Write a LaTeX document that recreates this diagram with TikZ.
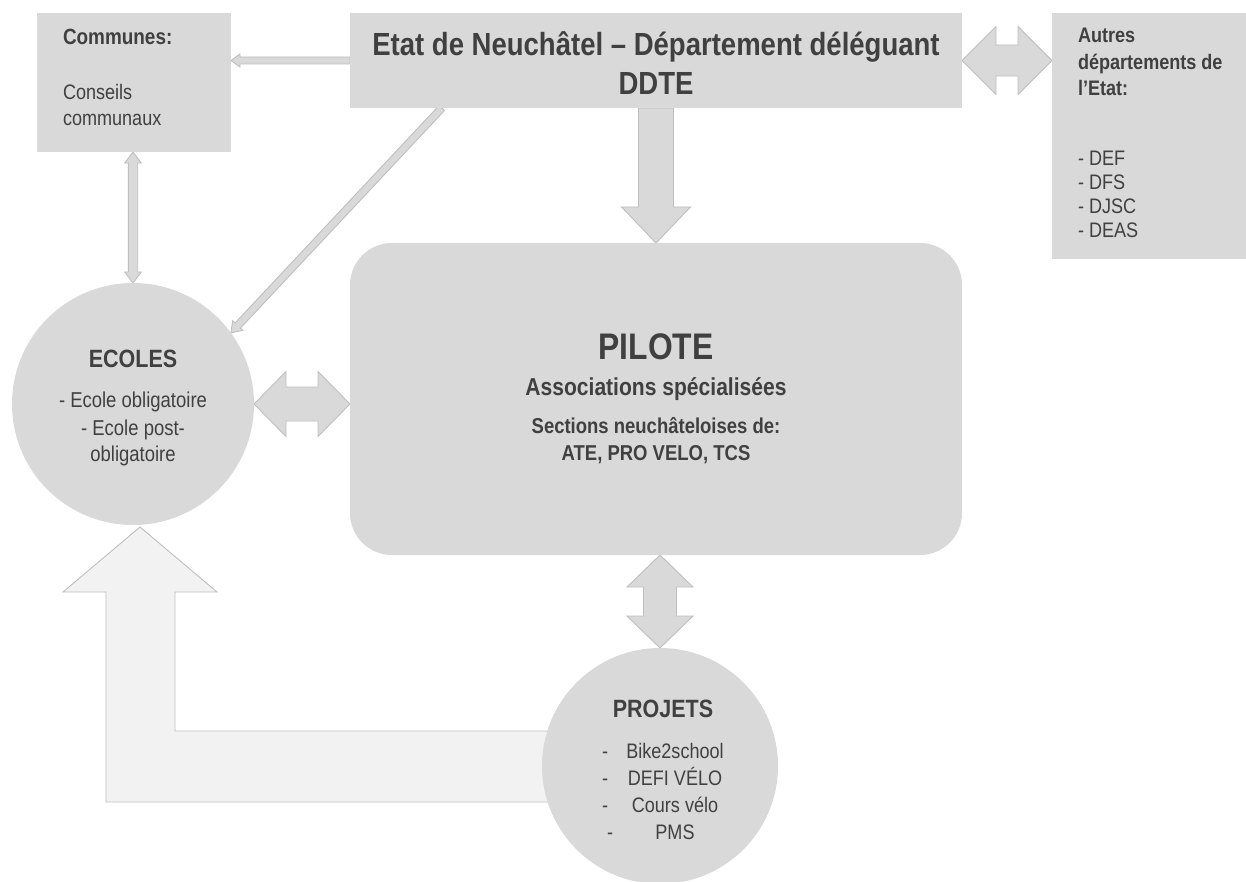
\documentclass[tikz,border=0pt]{standalone}
\usepackage{fontspec}
\setmainfont{Liberation Sans}[FakeStretch=0.86]
\usetikzlibrary{calc}
\definecolor{boxg}{HTML}{D9D9D9}
\definecolor{edgeg}{HTML}{BFBFBF}
\definecolor{lightg}{HTML}{F2F2F2}
\definecolor{txt}{HTML}{404040}
\newcommand\fs[1]{\fontsize{#1}{#1}\selectfont}
% single block arrow: A B shaft-half head-half head-length
\newcommand\sarrow[5]{%
  \path ($(#2)!#5!(#1)$) coordinate (hb);
  \filldraw[blockarrow] ($(#1)!#3!90:(#2)$) -- ($(hb)!#3!90:(#2)$) -- ($(hb)!#4!90:(#2)$) -- (#2) -- ($(hb)!#4!-90:(#2)$) -- ($(hb)!#3!-90:(#2)$) -- ($(#1)!#3!-90:(#2)$) -- cycle;}
% double block arrow
\newcommand\darrow[5]{%
  \path ($(#1)!#5!(#2)$) coordinate (ha) ($(#2)!#5!(#1)$) coordinate (hb);
  \filldraw[blockarrow] (#1) -- ($(ha)!#4!90:(#2)$) -- ($(ha)!#3!90:(#2)$) -- ($(hb)!#3!90:(#2)$) -- ($(hb)!#4!90:(#2)$) -- (#2) -- ($(hb)!#4!-90:(#2)$) -- ($(hb)!#3!-90:(#2)$) -- ($(ha)!#3!-90:(#2)$) -- ($(ha)!#4!-90:(#2)$) -- cycle;}
\begin{document}
\begin{tikzpicture}[x=1pt,y=-1pt,
  every node/.style={inner sep=0pt, outer sep=0pt, text=txt},
  panel/.style={draw=none, rectangle},
  disc/.style={draw=none, circle},
  blockarrow/.style={fill=boxg, draw=edgeg, line width=0.9pt, line join=miter},
  bigarrow/.style={fill=lightg, draw=edgeg, line width=0.9pt, line join=miter},
  hd/.style={font=\bfseries\fs{#1}},
  tx/.style={font=\fs{#1}}]
\useasboundingbox (0,0) rectangle (1246,882);
\fill[white] (0,0) rectangle (1246,882);

% shape nodes (placeholders; filled below after the arrows)
\path node[panel, minimum width=194pt, minimum height=139pt, anchor=north west] (communes) at (37,13) {}
      node[panel, minimum width=612pt, minimum height=95pt, anchor=north west] (etat) at (350,13) {}
      node[panel, minimum width=194pt, minimum height=246pt, anchor=north west] (autres) at (1052,13) {}
      node[panel, minimum width=612pt, minimum height=312pt, anchor=north west] (pilote) at (350,243) {}
      node[disc, minimum size=242pt] (ecoles) at (133,404) {}
      node[disc, minimum size=236pt] (projets) at (660,766) {};

% connectors
\coordinate (cE) at (communes.east |- etat.west);
\coordinate (aW) at (autres.west |- etat.east);
\coordinate (eDiag) at ($(etat.south west)!0.15!(etat.south east)$);
\coordinate (cS) at (communes.south -| ecoles.north);
\coordinate (pW) at (pilote.west |- ecoles.east);
\coordinate (pS) at (pilote.south -| projets.north);
\coordinate (eTip) at ($(ecoles.south)+(7,2)$);

\sarrow{etat.west}{cE}{3.5pt}{6.5pt}{9pt}
\darrow{cS}{ecoles.north}{4.7pt}{8.3pt}{11pt}
\sarrow{eDiag}{ecoles.36}{3.7pt}{7pt}{10pt}
\darrow{etat.east}{aW}{15.5pt}{34pt}{34pt}
\sarrow{etat.south}{pilote.north}{17.5pt}{34.5pt}{36pt}
\darrow{ecoles.east}{pW}{17pt}{32.5pt}{32pt}
\darrow{pS}{projets.north}{16.5pt}{33pt}{32pt}

% L-shaped arrow PROJETS -> ECOLES
\filldraw[bigarrow] (projets.center |- 0,731) -- (175,731) -- (175,592) -- (217,592) -- (eTip) -- (63,592) -- (106,592) -- (106,802) -- (projets.center |- 0,802) -- cycle;

% shapes on top
\fill[boxg] (communes.south west) rectangle (communes.north east);
\fill[boxg] (etat.south west) rectangle (etat.north east);
\fill[boxg] (autres.south west) rectangle (autres.north east);
\fill[boxg, rounded corners=42pt] (pilote.south west) rectangle (pilote.north east);
\fill[boxg] (ecoles.center) circle[radius=121pt];
\fill[boxg] (projets.center) circle[radius=118pt];

% texts
\node[hd=22, anchor=base west] (tcom1) at (63,45) {Communes:};
\node[tx=21, anchor=base west] (tcom2) at (63,100) {Conseils};
\node[tx=21, anchor=base west] (tcom3) at (63,126) {communaux};

\node[hd=32, anchor=base] (tetat1) at (656,56) {Etat de Neuchâtel – Département déléguant};
\node[hd=32, anchor=base] (tetat2) at (656,95) {DDTE};

\node[hd=21, anchor=base west] (taut1) at (1078,43) {Autres};
\node[hd=21, anchor=base west] (taut2) at (1078,70) {départements de};
\node[hd=21, anchor=base west] (taut3) at (1078,96) {l’Etat:};
\node[tx=21, anchor=base west] (taut4) at (1078,166) {- DEF};
\node[tx=21, anchor=base west] (taut5) at (1078,190) {- DFS};
\node[tx=21, anchor=base west] (taut6) at (1078,214) {- DJSC};
\node[tx=21, anchor=base west] (taut7) at (1078,238) {- DEAS};

\node[hd=25, anchor=base] (tec1) at (133,367) {ECOLES};
\node[tx=21.5, anchor=base] (tec2) at (133,407) {- Ecole obligatoire};
\node[tx=21.5, anchor=base] (tec3) at (133,435) {- Ecole post-};
\node[tx=21.5, anchor=base] (tec4) at (133,461) {obligatoire};

\node[hd=37, anchor=base] (tpil1) at (656,359) {PILOTE};
\node[hd=24.5, anchor=base] (tpil2) at (656,395) {Associations spécialisées};
\node[hd=21.5, anchor=base] (tpil3) at (656,433) {Sections neuchâteloises de:};
\node[hd=21.5, anchor=base] (tpil4) at (656,460) {ATE, PRO VELO, TCS};

\node[hd=25, anchor=base] (tpr1) at (663,717) {PROJETS};
\node[tx=21, anchor=base] (tpr2d) at (605,758) {-};
\node[tx=21, anchor=base] (tpr2) at (675,758) {Bike2school};
\node[tx=21, anchor=base] (tpr3d) at (605,785) {-};
\node[tx=21, anchor=base] (tpr3) at (675,785) {DEFI VÉLO};
\node[tx=21, anchor=base] (tpr4d) at (605,812) {-};
\node[tx=21, anchor=base] (tpr4) at (675,812) {Cours vélo};
\node[tx=21, anchor=base] (tpr5d) at (610,839) {-};
\node[tx=21, anchor=base] (tpr5) at (675,839) {PMS};
\end{tikzpicture}
\end{document}
